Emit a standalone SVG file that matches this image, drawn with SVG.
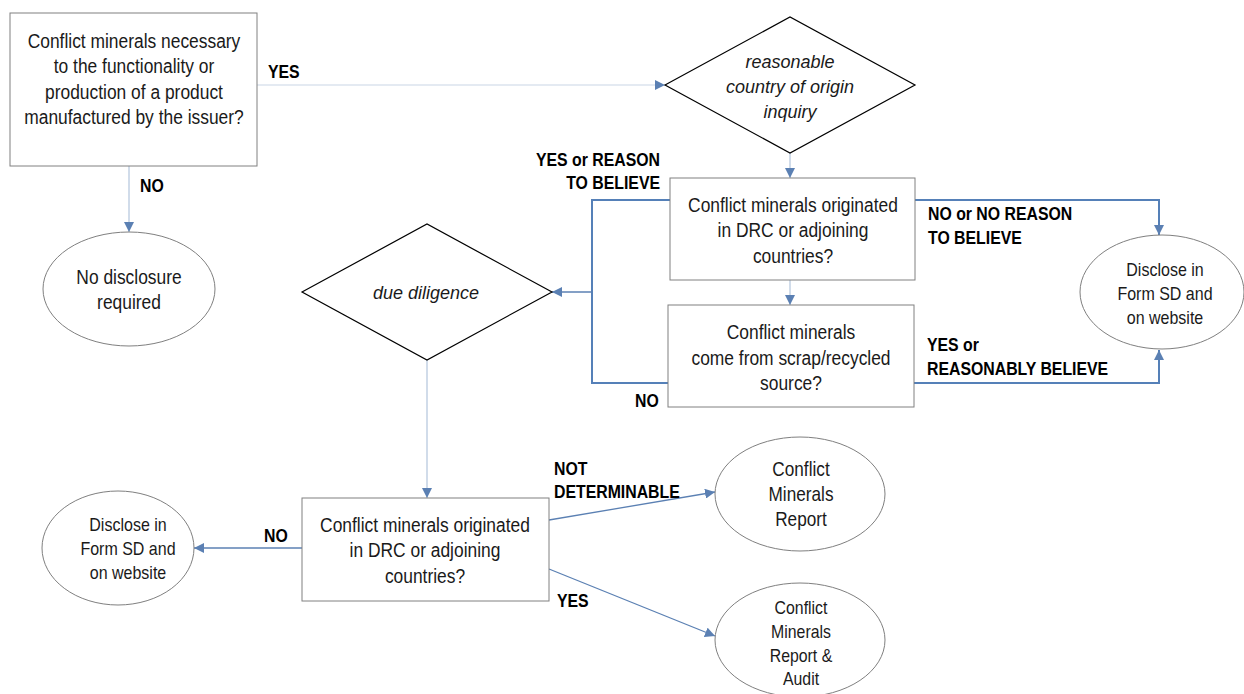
<svg xmlns="http://www.w3.org/2000/svg" width="1244" height="694" viewBox="0 0 1244 694">
<defs>
<marker id="arr" viewBox="0 0 10 10" refX="10" refY="5" markerWidth="10" markerHeight="10" markerUnits="userSpaceOnUse" orient="auto">
<path d="M0,0 L10,5 L0,10 Z" fill="#5b80b3"/>
</marker>
<style>
.box{fill:#fff;stroke:#808080;stroke-width:1}
.ell{fill:#fff;stroke:#7f7f7f;stroke-width:1}
.dia{fill:#fff;stroke:#000;stroke-width:1.2}
.t{font-family:"Liberation Sans",Arial,sans-serif;font-size:20px;fill:#1a1a1a;text-anchor:middle}
.i{font-style:italic}
.s{font-size:18px}
.lb{font-family:"Liberation Sans",Arial,sans-serif;font-size:18px;font-weight:bold;fill:#000}
.blue{fill:none;stroke:#5580b8;stroke-width:2}
.thin{fill:none;stroke:#5b80b3;stroke-width:1.3}
.light{fill:none;stroke:#b9c9df;stroke-width:1.3}
.vlight{fill:none;stroke:#dbe3ee;stroke-width:1.5}
</style>
</defs>
<g id="connectors">
<line class="vlight" x1="257" y1="85" x2="665" y2="85" marker-end="url(#arr)"/>
<line class="light" x1="129" y1="166" x2="129" y2="232" marker-end="url(#arr)"/>
<line class="light" x1="790" y1="153" x2="790" y2="178" marker-end="url(#arr)"/>
<line class="light" x1="790" y1="280" x2="790" y2="305" marker-end="url(#arr)"/>
<polyline class="blue" points="670,200 592,200 592,383 668,383"/>
<line class="thin" x1="592" y1="292" x2="552" y2="292" marker-end="url(#arr)" style="stroke-width:1.6"/>
<polyline class="blue" points="915,200 1159,200 1159,235" marker-end="url(#arr)"/>
<polyline class="blue" points="914,383 1159,383 1159,350" marker-end="url(#arr)"/>
<line class="light" x1="427" y1="360" x2="427" y2="498" marker-end="url(#arr)"/>
<line class="thin" x1="302" y1="548" x2="194" y2="548" marker-end="url(#arr)" style="stroke-width:1.6"/>
<line class="thin" x1="549" y1="520" x2="715" y2="492" marker-end="url(#arr)"/>
<line class="thin" x1="549" y1="569" x2="715" y2="636" marker-end="url(#arr)"/>
<text class="lb" transform="translate(268 78) scale(0.88 1)">YES</text>
<text class="lb" transform="translate(140 192) scale(0.88 1)">NO</text>
<text class="lb" text-anchor="end" transform="translate(660 166) scale(0.88 1)">YES or REASON</text>
<text class="lb" text-anchor="end" transform="translate(660 189) scale(0.88 1)">TO BELIEVE</text>
<text class="lb" transform="translate(635 407) scale(0.88 1)">NO</text>
<text class="lb" transform="translate(928 220) scale(0.88 1)">NO or NO REASON</text>
<text class="lb" transform="translate(928 244) scale(0.88 1)">TO BELIEVE</text>
<text class="lb" transform="translate(927 351) scale(0.88 1)">YES or</text>
<text class="lb" transform="translate(927 375) scale(0.88 1)">REASONABLY BELIEVE</text>
<text class="lb" transform="translate(264 542) scale(0.88 1)">NO</text>
<text class="lb" transform="translate(554 475) scale(0.88 1)">NOT</text>
<text class="lb" transform="translate(554 498) scale(0.88 1)">DETERMINABLE</text>
<text class="lb" transform="translate(557 607) scale(0.88 1)">YES</text>
</g>
<g id="q1">
<rect class="box" x="10" y="13" width="247" height="153"/>
<text class="t" transform="translate(134 48) scale(0.87 1)">Conflict minerals necessary</text>
<text class="t" transform="translate(134 73) scale(0.87 1)">to the functionality or</text>
<text class="t" transform="translate(134 99) scale(0.87 1)">production of a product</text>
<text class="t" transform="translate(134 124) scale(0.87 1)">manufactured by the issuer?</text>
</g>
<g id="no-disclosure">
<ellipse class="ell" cx="129" cy="289" rx="86" ry="57"/>
<text class="t" transform="translate(129 284) scale(0.87 1)">No disclosure</text>
<text class="t" transform="translate(129 309) scale(0.87 1)">required</text>
</g>
<g id="rcoi">
<polygon class="dia" points="665,85 790,17 915,85 790,153"/>
<text class="t i s" x="790" y="68">reasonable</text>
<text class="t i s" x="790" y="93">country of origin</text>
<text class="t i s" x="790" y="118">inquiry</text>
</g>
<g id="q2">
<rect class="box" x="670" y="178" width="245" height="102"/>
<text class="t" transform="translate(793 212) scale(0.87 1)">Conflict minerals originated</text>
<text class="t" transform="translate(793 237) scale(0.87 1)">in DRC or adjoining</text>
<text class="t" transform="translate(793 263) scale(0.87 1)">countries?</text>
</g>
<g id="q3">
<rect class="box" x="668" y="305" width="246" height="102"/>
<text class="t" transform="translate(791 339) scale(0.87 1)">Conflict minerals</text>
<text class="t" transform="translate(791 365) scale(0.87 1)">come from scrap/recycled</text>
<text class="t" transform="translate(791 390) scale(0.87 1)">source?</text>
</g>
<g id="disclose-right">
<ellipse class="ell" cx="1162" cy="292" rx="82" ry="57"/>
<text class="t s" transform="translate(1165 276) scale(0.89 1)">Disclose in</text>
<text class="t s" transform="translate(1165 300) scale(0.89 1)">Form SD and</text>
<text class="t s" transform="translate(1165 324) scale(0.89 1)">on website</text>
</g>
<g id="due-diligence">
<polygon class="dia" points="302,292 427,224 552,292 427,360"/>
<text class="t i s" x="426" y="299">due diligence</text>
</g>
<g id="q4">
<rect class="box" x="302" y="498" width="247" height="103"/>
<text class="t" transform="translate(425 532) scale(0.87 1)">Conflict minerals originated</text>
<text class="t" transform="translate(425 557) scale(0.87 1)">in DRC or adjoining</text>
<text class="t" transform="translate(425 583) scale(0.87 1)">countries?</text>
</g>
<g id="disclose-left">
<ellipse class="ell" cx="118" cy="548" rx="76" ry="57"/>
<text class="t s" transform="translate(128 531) scale(0.89 1)">Disclose in</text>
<text class="t s" transform="translate(128 555) scale(0.89 1)">Form SD and</text>
<text class="t s" transform="translate(128 579) scale(0.89 1)">on website</text>
</g>
<g id="cmr">
<ellipse class="ell" cx="800" cy="494" rx="85" ry="57"/>
<text class="t" transform="translate(801 476) scale(0.86 1)">Conflict</text>
<text class="t" transform="translate(801 501) scale(0.86 1)">Minerals</text>
<text class="t" transform="translate(801 526) scale(0.86 1)">Report</text>
</g>
<g id="cmr-audit">
<ellipse class="ell" cx="800" cy="640" rx="85" ry="57"/>
<text class="t s" transform="translate(801 614) scale(0.88 1)">Conflict</text>
<text class="t s" transform="translate(801 638) scale(0.88 1)">Minerals</text>
<text class="t s" transform="translate(801 662) scale(0.88 1)">Report &amp;</text>
<text class="t s" transform="translate(801 685) scale(0.88 1)">Audit</text>
</g>
</svg>
